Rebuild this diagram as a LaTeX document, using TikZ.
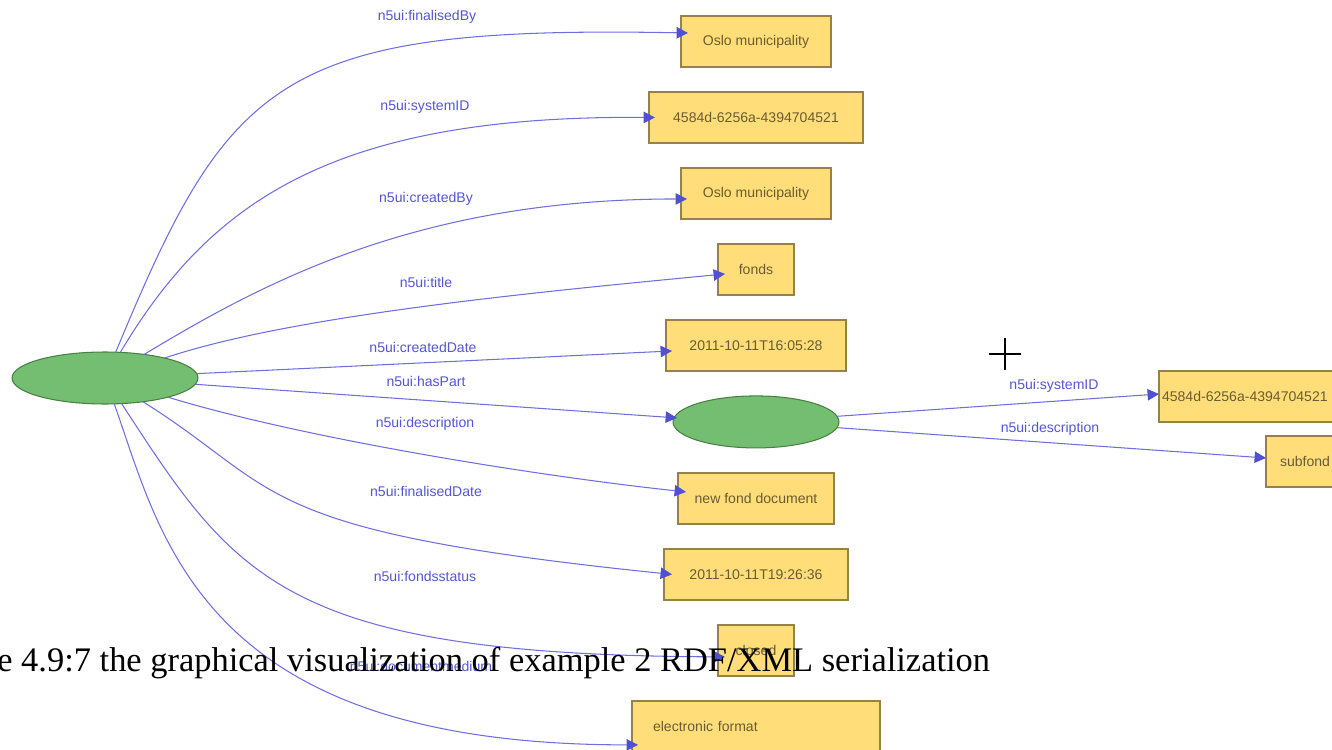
\documentclass[tikz,border=0pt]{standalone}
\usepackage{fontspec}
\setmainfont{Liberation Serif}
\newfontfamily\graphfont{Liberation Sans}
\usetikzlibrary{arrows.meta,calc,positioning,shapes.geometric}

\definecolor{litfill}{RGB}{255,222,122}
\definecolor{litdraw}{RGB}{150,130,70}
\definecolor{littext}{RGB}{105,92,48}
\definecolor{resfill}{RGB}{115,190,112}
\definecolor{resdraw}{RGB}{72,128,66}
\definecolor{propblue}{RGB}{110,110,225}
\definecolor{tipblue}{RGB}{80,80,210}
\definecolor{proptext}{RGB}{85,85,215}

\tikzset{
  res/.style={ellipse, draw=resdraw, fill=resfill, line width=0.6pt, inner sep=0pt, outer sep=0pt, minimum height=1.04cm},
  lit/.style={rectangle, draw=litdraw, fill=litfill, line width=0.8pt, inner sep=0pt, outer sep=0pt, minimum height=1.02cm,
    text=littext, font=\graphfont\fontsize{8}{9}\selectfont},
  prop/.style={draw=propblue, line width=0.6pt, -{Triangle[length=6.5pt,width=6.5pt,color=tipblue]}},
  plabel/.style={text=proptext, inner sep=0pt, font=\graphfont\fontsize{8}{9}\selectfont},
}

\begin{document}
\begin{tikzpicture}[x=0.02cm, y=-0.02cm, node distance=0.5cm]
	\useasboundingbox (0,0) rectangle (1332,750);

	\node[res, minimum width=3.72cm] (fnd) at (105,378) {};
	\node[lit, minimum width=3cm] (finby) at (756,41.5) {Oslo municipality};
	\node[lit, minimum width=4.28cm, below = of finby] (sysid) {4584d-6256a-4394704521};
	\node[lit, minimum width=3cm, below = of sysid] (crby) {Oslo municipality};
	\node[lit, minimum width=1.52cm, below = of crby] (title) {fonds};
	\node[lit, minimum width=3.6cm, below = of title] (crdate) {2011-10-11T16:05:28};
	\node[res, minimum width=3.32cm, below = of crdate] (part) {};
	\node[lit, minimum width=3.12cm, below = of part] (descr) {new fond document};
	\node[lit, minimum width=3.68cm, below = of descr] (findate) {2011-10-11T19:26:36};
	\node[lit, minimum width=1.52cm, below = of findate] (status) {closed};
	\node[lit, text width=4.12cm, align=left, inner xsep=0.42cm, below = of status] (medium) {electronic format};
	\node[lit, anchor=west, text width=4.16cm, align=left, inner xsep=0.06cm] (psysid) at (1159,396.5) {4584d-6256a-4394704521};
	\node[lit, anchor=west, text width=2.5cm, align=left, inner xsep=0.28cm] (pdescr) at (1266,461.5) {subfond};

	\draw[prop] (fnd) .. controls (229,79) and (277,25) .. ($(finby.west)+(7,-8.5)$);
	\draw[prop] (fnd) .. controls (209.5,203) and (331,115) .. ($(sysid.west)+(6,0)$);
	\draw[prop] (fnd) .. controls (261,284) and (416,199) .. ($(crby.west)+(6,5.5)$);
	\draw[prop] (fnd) .. controls (290,316) and (526,293) .. ($(title.west)+(7,4.5)$);
	\draw[prop] (fnd) -- ($(crdate.west)+(6,5.5)$);
	\draw[prop] (fnd) -- ($(part.west)+(4,-4)$);
	\draw[prop] (fnd) .. controls (305,439) and (538,476) .. ($(descr.west)+(8,-6.5)$);
	\draw[prop] (fnd) .. controls (284,490) and (248,531) .. ($(findate.west)+(8,0)$);
	\draw[prop] (fnd) .. controls (235,578) and (283,655) .. ($(status.west)+(7,6.5)$);
	\draw[prop] (fnd) .. controls (162,538) and (200,745) .. ($(medium.west)+(6,18.5)$);
	\draw[prop] (part) -- ($(psysid.west)+(0,-2.5)$);
	\draw[prop] (part) -- ($(pdescr.west)+(0,-3.5)$);

	\node[plabel] (lfinby) at (427,17) {n5ui:finalisedBy};
	\node[plabel] (lsysid) at (425,107) {n5ui:systemID};
	\node[plabel] (lcrby) at (426,199) {n5ui:createdBy};
	\node[plabel] (ltitle) at (426,282) {n5ui:title};
	\node[plabel] (lcrdate) at (423,347) {n5ui:createdDate};
	\node[plabel] (lpart) at (426,381) {n5ui:hasPart};
	\node[plabel] (ldescr) at (425,424) {n5ui:description};
	\node[plabel] (lfindate) at (426,491) {n5ui:finalisedDate};
	\node[plabel] (lstatus) at (425,576) {n5ui:fondsstatus};
	\node[plabel] (lmedium) at (421,666) {n5ui:documentmedium};
	\node[plabel] (lpsysid) at (1054,386) {n5ui:systemID};
	\node[plabel] (lpdescr) at (1050,429) {n5ui:description};

	\coordinate (cursor) at (1005,354);
	\draw[line width=0.6pt] (cursor) ++(0,-16) -- ++(0,32) (cursor) ++(-16,0) -- ++(32,0);

	\node[anchor=base west, inner sep=0pt, font=\fontsize{19.6}{24}\selectfont] (caption) at (-3,671)
		{e 4.9:7 the graphical visualization of example 2 RDF/XML serialization};
\end{tikzpicture}
\end{document}
